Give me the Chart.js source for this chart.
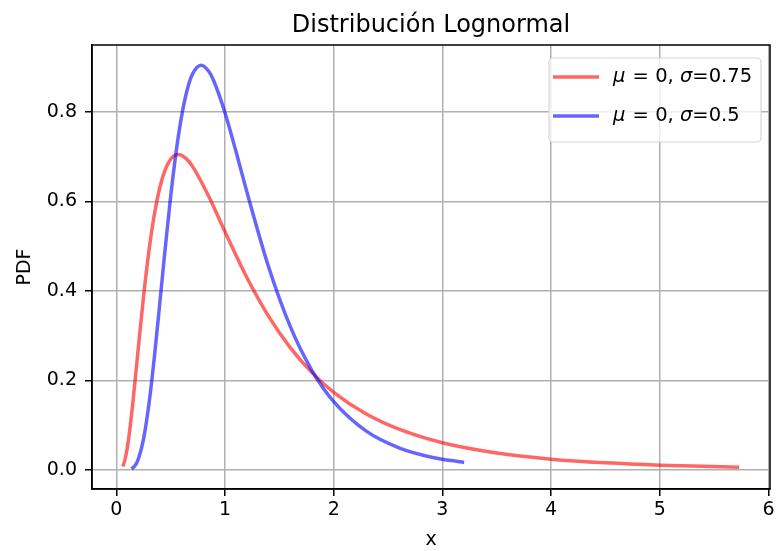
<!DOCTYPE html>
<html>
<head>
<meta charset="utf-8">
<script src="https://cdn.jsdelivr.net/npm/chart.js@4.4.1/dist/chart.umd.min.js"></script>
<style>
  body { margin: 0; background: #fff; }
  canvas { display: block; }
</style>
</head>
<body>
<canvas id="lognormChart" width="779" height="551"></canvas>
<script>
// values
const redX = [0.06, 0.08, 0.10, 0.12, 0.15, 0.20, 0.25, 0.30, 0.35, 0.40, 0.45, 0.50, 0.57, 0.65, 0.70, 0.85, 1.0, 1.2, 1.4, 1.6, 1.8, 2.0, 2.3, 2.6, 3.0, 3.5, 4.0, 4.5, 5.0, 5.73];
const redY = [0.0078, 0.0229, 0.0478, 0.0815, 0.1447, 0.266, 0.3856, 0.4887, 0.5705, 0.6304, 0.6707, 0.694, 0.7046, 0.6938, 0.6786, 0.6113, 0.5319, 0.4304, 0.3436, 0.2732, 0.2174, 0.1735, 0.1248, 0.0909, 0.0606, 0.0377, 0.0241, 0.0158, 0.0106, 0.0062];

const blueX = [0.14, 0.17, 0.20, 0.25, 0.30, 0.35, 0.40, 0.45, 0.50, 0.55, 0.60, 0.65, 0.70, 0.78, 0.85, 0.90, 1.0, 1.1, 1.2, 1.4, 1.6, 1.8, 2.0, 2.3, 2.6, 2.9, 3.2];
const blueY = [0.0025, 0.0088, 0.0225, 0.0683, 0.1466, 0.2515, 0.3720, 0.4954, 0.6104, 0.7098, 0.7891, 0.8469, 0.8837, 0.9041, 0.8905, 0.8671, 0.7979, 0.7123, 0.6222, 0.4544, 0.3206, 0.2221, 0.1526, 0.0866, 0.0494, 0.0285, 0.0167];

const xTicks = [0, 1, 2, 3, 4, 5, 6];
const yTicks = [0.0, 0.2, 0.4, 0.6, 0.8];

const seriesLabels = [['\u03bc', ' = 0, ', '\u03c3', '=0.75'], ['\u03bc', ' = 0, ', '\u03c3', '=0.5']];

const FONT = "'DejaVu Sans', sans-serif";

function toPoints(xs, ys) {
  return xs.map((x, i) => ({ x: x, y: ys[i] }));
}

// top / right spines
const frame = {
  id: 'frame',
  afterDatasetsDraw(chart) {
    const { ctx, chartArea: a } = chart;
    ctx.save();
    ctx.strokeStyle = '#000';
    ctx.lineWidth = 1.5;
    ctx.strokeRect(a.left, a.top, a.right - a.left, a.bottom - a.top);
    ctx.restore();
  }
};

// matplotlib style legend, upper right
const mplLegend = {
  id: 'mplLegend',
  afterDraw(chart) {
    const { ctx, chartArea: a } = chart;
    const w = 212, h = 84;
    const x0 = a.right - 9 - w, y0 = a.top + 13;
    ctx.save();
    ctx.beginPath();
    ctx.roundRect(x0, y0, w, h, 4);
    ctx.fillStyle = 'rgba(255,255,255,0.8)';
    ctx.fill();
    ctx.strokeStyle = '#d6d6d6';
    ctx.lineWidth = 1.2;
    ctx.stroke();
    chart.data.datasets.forEach((ds, i) => {
      const yy = y0 + 19 + i * 39;
      ctx.strokeStyle = ds.borderColor;
      ctx.lineWidth = ds.borderWidth;
      ctx.beginPath();
      ctx.moveTo(x0 + 4, yy);
      ctx.lineTo(x0 + 50, yy);
      ctx.stroke();
      let tx = x0 + 64;
      ctx.fillStyle = '#000';
      ctx.textBaseline = 'middle';
      seriesLabels[i].forEach((part, j) => {
        ctx.font = (j % 2 === 0 ? 'italic ' : '') + '19.5px ' + FONT;
        ctx.fillText(part, tx, yy);
        tx += ctx.measureText(part).width + (j === 0 ? 1 : 0);
      });
    });
    ctx.restore();
  }
};

const data = {
  datasets: [{
    label: '\u03bc = 0, \u03c3=0.75',
    data: toPoints(redX, redY),
    borderColor: 'rgba(255, 0, 0, 0.6)',
    borderWidth: 3.5,
    pointRadius: 0,
    cubicInterpolationMode: 'monotone',
    order: 2
  }, {
    label: '\u03bc = 0, \u03c3=0.5',
    data: toPoints(blueX, blueY),
    borderColor: 'rgba(0, 0, 255, 0.6)',
    borderWidth: 3.5,
    pointRadius: 0,
    cubicInterpolationMode: 'monotone',
    order: 1
  }]
};

const config = {
  type: 'line',
  data: data,
  options: {
    responsive: false,
    devicePixelRatio: 1,
    animation: false,
    layout: { padding: { left: 0, right: 9, top: 0, bottom: 0 } },
    plugins: {
      legend: { display: false },
      tooltip: { enabled: false },
      title: {
        display: true,
        fullSize: false,
        text: 'Distribución Lognormal',
        color: '#000',
        font: { family: FONT, size: 24, weight: 'normal' },
        padding: { top: 11.6, bottom: 4.6 }
      }
    },
    scales: {
      x: {
        type: 'linear',
        min: -0.2235,
        max: 6.0135,
        afterBuildTicks: s => { s.ticks = xTicks.map(v => ({ value: v })); },
        afterFit: s => { s.height = 62; },
        ticks: {
          color: '#000',
          padding: 3,
          maxRotation: 0,
          font: { family: FONT, size: 19 },
          callback: v => String(v)
        },
        grid: { color: '#b0b0b0', lineWidth: 1.5, tickColor: '#000', tickLength: 7 },
        border: { color: '#000', width: 1.5 },
        title: {
          display: true,
          text: 'x',
          color: '#000',
          font: { family: FONT, size: 19 },
          padding: { top: 0, bottom: 0 }
        }
      },
      y: {
        type: 'linear',
        min: -0.0426,
        max: 0.9492,
        afterBuildTicks: s => { s.ticks = yTicks.map(v => ({ value: v })); },
        afterFit: s => { s.width = 92; },
        ticks: {
          color: '#000',
          padding: 8,
          font: { family: FONT, size: 19 },
          callback: v => v.toFixed(1)
        },
        grid: { color: '#b0b0b0', lineWidth: 1.5, tickColor: '#000', tickLength: 7 },
        border: { color: '#000', width: 1.5 },
        title: {
          display: true,
          text: 'PDF',
          color: '#000',
          font: { family: FONT, size: 19 },
          padding: { top: 14, bottom: 0 }
        }
      }
    }
  },
  plugins: [frame, mplLegend]
};

const lognormChart = new Chart(document.getElementById('lognormChart'), config);
</script>
</body>
</html>
